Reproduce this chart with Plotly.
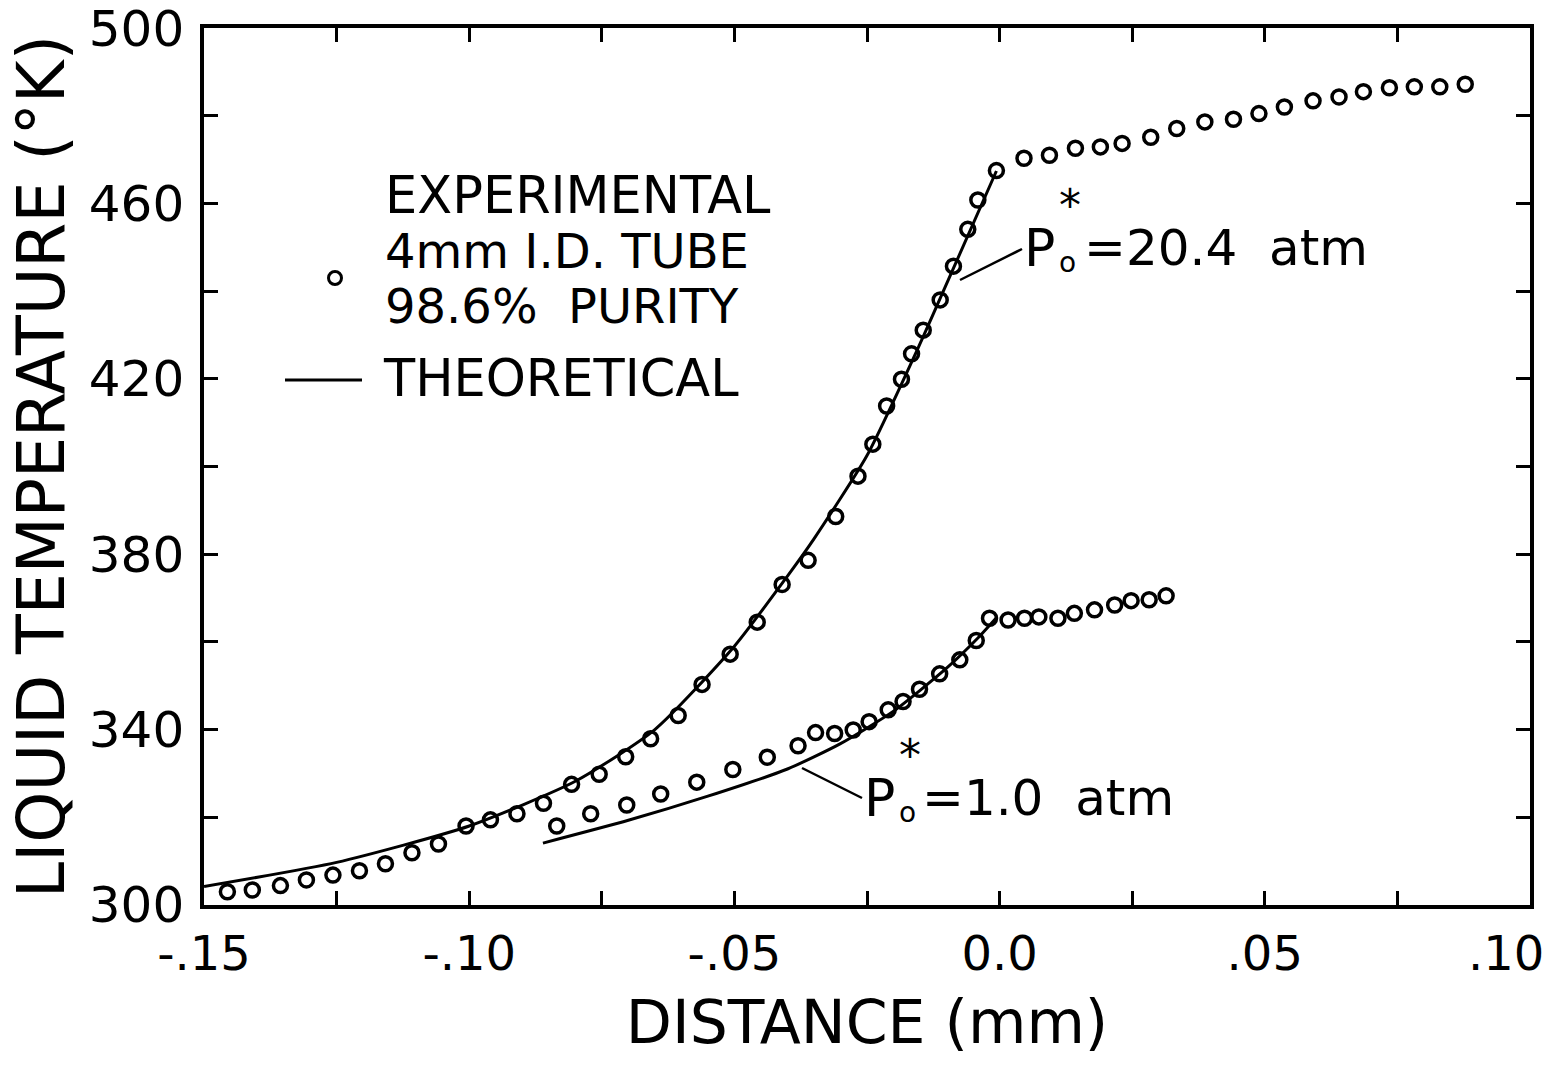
import plotly.graph_objects as go

# ---------------- data ----------------
# Experimental points, P0* = 20.4 atm
hi_x = [-0.1456, -0.1409, -0.1356, -0.1307, -0.1257, -0.1207, -0.1158, -0.1108,
        -0.1058, -0.1006, -0.0960, -0.0910, -0.0860, -0.0807, -0.0755, -0.0705,
        -0.0658, -0.0606, -0.0561, -0.0508, -0.0457, -0.0410, -0.0361, -0.0309,
        -0.0267, -0.0239, -0.0213, -0.0185, -0.0166, -0.0144, -0.0112, -0.0087,
        -0.0060, -0.0041, -0.0006,
        0.0046, 0.0094, 0.0143, 0.0190, 0.0231, 0.0285, 0.0334, 0.0387, 0.0441,
        0.0489, 0.0537, 0.0591, 0.0640, 0.0686, 0.0735, 0.0782, 0.0830, 0.0878]
hi_T = [303.0, 303.4, 304.4, 305.7, 306.8, 307.8, 309.4, 311.9,
        313.9, 318.0, 319.4, 320.8, 323.2, 327.5, 329.8, 333.8,
        337.9, 343.2, 350.3, 357.2, 364.5, 373.1, 378.6, 388.6,
        397.8, 405.1, 413.8, 419.9, 425.7, 431.1, 438.0, 445.7,
        454.1, 460.8, 467.5,
        470.3, 471.0, 472.6, 472.9, 473.7, 475.1, 477.1, 478.6, 479.2,
        480.5, 482.0, 483.4, 484.3, 485.5, 486.4, 486.6, 486.6, 487.2]

# Experimental points, P0* = 1.0 atm
lo_x = [-0.0835, -0.0771, -0.0703, -0.0639, -0.0571, -0.0503, -0.0438, -0.0380,
        -0.0347, -0.0311, -0.0276, -0.0246, -0.0210, -0.0182, -0.0151, -0.0113,
        -0.0075, -0.0044, -0.0019, 0.0016, 0.0047, 0.0074, 0.0110, 0.0141,
        0.0179, 0.0217, 0.0248, 0.0282, 0.0314]
lo_T = [318.0, 320.8, 322.8, 325.3, 328.0, 330.9, 333.7, 336.3,
        339.3, 339.1, 339.9, 341.8, 344.5, 346.4, 349.2, 352.7,
        355.9, 360.3, 365.4, 365.0, 365.4, 365.7, 365.4, 366.5,
        367.3, 368.4, 369.4, 369.6, 370.5]

# Theoretical curves
th_hi_x = [-0.150, -0.125, -0.100, -0.080, -0.065, -0.050, -0.040, -0.035,
           -0.025, -0.015, -0.0094, -0.0006]
th_hi_T = [304.2, 309.7, 318.0, 328.2, 340.0, 359.0, 375.0, 383.5,
           402.5, 428.0, 443.3, 467.4]
th_lo_x = [-0.0861, -0.070, -0.055, -0.040, -0.030, -0.020, -0.010, -0.004, -0.0006]
th_lo_T = [314.1, 319.3, 324.8, 331.0, 336.8, 344.2, 354.0, 361.0, 365.5]

x_tickvals = [-0.15, -0.125, -0.10, -0.075, -0.05, -0.025, 0.0, 0.025, 0.05, 0.075, 0.10]
x_ticktext = ["-.15", "", "-.10", "", "-.05", "", "0.0", "", ".05", "", ""]
x_last_label = ".10"   # drawn separately so it stays inside the page
y_tickvals = [300, 320, 340, 360, 380, 400, 420, 440, 460, 480, 500]
y_ticktext = ["300", "", "340", "", "380", "", "420", "", "460", "", "500"]

# ---------------- layout geometry (pixels) ----------------
W, H = 1554, 1068
L, R, T, B = 204, 1530, 28, 905
FONT = "DejaVu Sans"


def px(x):
    return (x - L) / (R - L)


def py(y):
    return (B - y) / (B - T)


fig = go.Figure()

line_style = dict(color="black", width=3, shape="spline", smoothing=0.6)
fig.add_trace(go.Scatter(x=th_hi_x, y=th_hi_T, mode="lines", line=line_style,
                         showlegend=False, hoverinfo="skip"))
fig.add_trace(go.Scatter(x=th_lo_x, y=th_lo_T, mode="lines", line=line_style,
                         showlegend=False, hoverinfo="skip"))

marker_style = dict(symbol="circle-open", size=14, color="black",
                    line=dict(width=3.5, color="black"))
fig.add_trace(go.Scatter(x=hi_x, y=hi_T, mode="markers", marker=marker_style, showlegend=False))
fig.add_trace(go.Scatter(x=lo_x, y=lo_T, mode="markers", marker=marker_style, showlegend=False))

shapes = []
# legend marker and line
cx, cy, rr = 335, 278, 6.5
shapes.append(dict(type="circle", xref="paper", yref="paper",
                   x0=px(cx - rr), x1=px(cx + rr), y0=py(cy + rr), y1=py(cy - rr),
                   line=dict(color="black", width=3)))
shapes.append(dict(type="line", xref="paper", yref="paper",
                   x0=px(285), x1=px(362), y0=py(380), y1=py(380),
                   line=dict(color="black", width=3)))
# leader lines
shapes.append(dict(type="line", xref="paper", yref="paper",
                   x0=px(960), x1=px(1022), y0=py(280), y1=py(249),
                   line=dict(color="black", width=2.5)))
shapes.append(dict(type="line", xref="paper", yref="paper",
                   x0=px(802), x1=px(862), y0=py(768), y1=py(798),
                   line=dict(color="black", width=2.5)))

annotations = []


def txt(text, x, y, size, xanchor="left", yanchor="middle"):
    annotations.append(dict(text=text, x=px(x), y=py(y), xref="paper", yref="paper",
                            xanchor=xanchor, yanchor=yanchor, showarrow=False,
                            font=dict(family=FONT, size=size, color="black")))


# legend texts
txt("EXPERIMENTAL", 383, 195, 51)
txt("4mm I.D. TUBE", 383, 251, 48)
txt("98.6%  PURITY", 383, 306, 48)
txt("THEORETICAL", 381, 379, 51)

# curve labels (P, subscript o and superscript * stacked)
txt("P", 1022, 248, 52)
txt("o", 1057, 262, 28)
txt("*", 1057, 205, 44)
txt("=20.4  atm", 1082, 248, 50)

txt("P", 862, 798, 52)
txt("o", 897, 812, 28)
txt("*", 897, 755, 44)
txt("=1.0  atm", 920, 798, 50)

# last x tick label, kept inside the page
txt(x_last_label, 1546, 953, 48, xanchor="right")

fig.update_layout(
    width=W, height=H,
    margin=dict(l=L, r=W - R, t=T, b=H - B),
    paper_bgcolor="white", plot_bgcolor="white",
    font=dict(family=FONT, color="black"),
    shapes=shapes, annotations=annotations,
    showlegend=False,
)
fig.update_xaxes(
    range=[-0.15001, 0.10001], showgrid=False, zeroline=False, automargin=False,
    showline=True, linecolor="black", linewidth=3.5, mirror="allticks",
    ticks="inside", ticklen=14, tickwidth=2.5, tickcolor="black",
    tickvals=x_tickvals, ticktext=x_ticktext, ticklabeloverflow="allow",
    tickfont=dict(family=FONT, size=48, color="black"), ticklabelstandoff=4,
    title=dict(text="DISTANCE (mm)", font=dict(family=FONT, size=60, color="black"), standoff=22),
)
fig.update_yaxes(
    range=[299.98, 500.02], showgrid=False, zeroline=False, automargin=False,
    showline=True, linecolor="black", linewidth=3.5, mirror="allticks",
    ticks="inside", ticklen=14, tickwidth=2.5, tickcolor="black",
    tickvals=y_tickvals, ticktext=y_ticktext, ticklabeloverflow="allow",
    tickfont=dict(family=FONT, size=50, color="black"), ticklabelstandoff=6,
    title=dict(text="LIQUID TEMPERATURE (°K)", font=dict(family=FONT, size=65, color="black"), standoff=4),
)

fig.write_html("out.html")
